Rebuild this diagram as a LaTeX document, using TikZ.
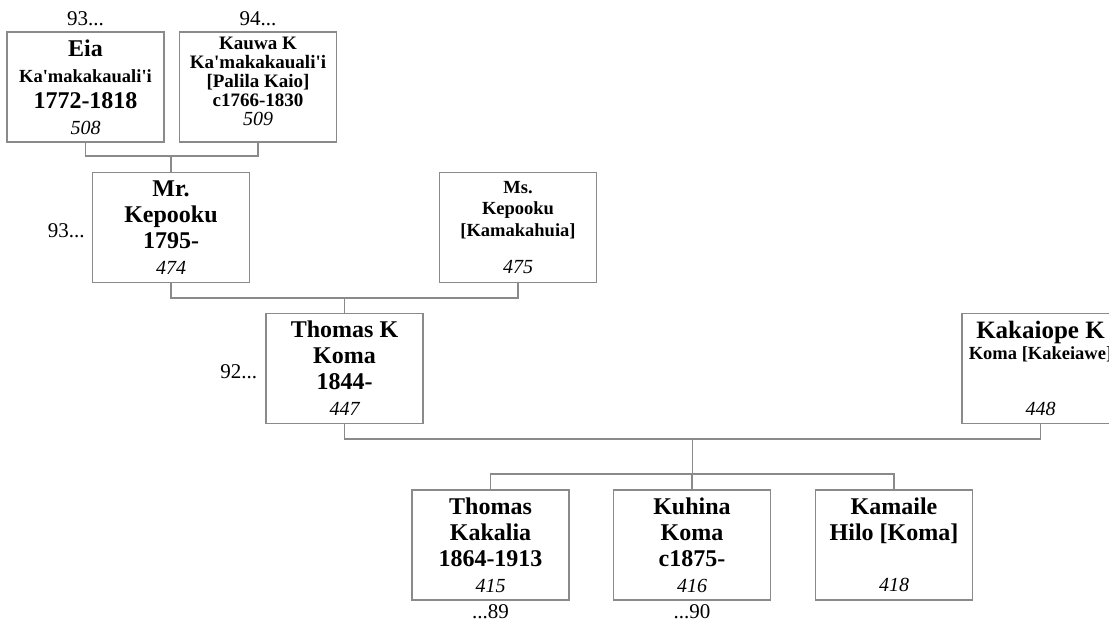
\documentclass[tikz,border=0pt]{standalone}
\usepackage{fontspec}
\setmainfont{Liberation Serif}
\usetikzlibrary{positioning}

\definecolor{boxgray}{HTML}{8A8A8A}
\definecolor{linegray}{HTML}{8A8A8A}
\newcommand{\ap}{\textquotesingle}
\newcommand{\namebig}{\fontsize{24}{26}\selectfont\bfseries}
\newcommand{\namesmall}{\fontsize{18.5}{21.5}\selectfont\bfseries}
\newcommand{\nametight}{\fontsize{19}{19}\selectfont\bfseries}
\newcommand{\idno}{\fontsize{20}{24}\selectfont\mdseries\itshape}

\begin{document}
\begin{tikzpicture}[
            x=1pt, y=-1pt,
            person/.style={draw=boxgray, line width=1.3pt, minimum width=157pt, minimum height=110pt, inner sep=0pt, align=center, font=\namebig},
            small/.style={font=\namesmall},
            tight/.style={font=\nametight},
            link/.style={draw=linegray, line width=1.3pt},
            ref/.style={font=\fontsize{21}{24}\selectfont, inner sep=0pt}
        ]
            \useasboundingbox (0,0) rectangle (1109,628);
            \clip (0,0) rectangle (1109,628);

            % Grandparents
            \node[person] (eia) at (85.5,87) {Eia\\\namesmall Ka\ap makakauali\ap i\\1772-1818\\\idno 508};
            \node[person, tight, text depth=11pt] (kauwa) at (258,87) {Kauwa K\\Ka\ap makakauali\ap i\\{}[Palila Kaio]\\c1766-1830\\\idno 509};
            \node[ref, above=5pt of eia] (eiaref) {93...};
            \node[ref, above=5pt of kauwa] (kauwaref) {94...};

            % Parents
            \node[person] (mr) at (171,227.5) {Mr.\\Kepooku\\1795-\\\idno 474};
            \node[person, small] (ms) at (518,227.5) {Ms.\\Kepooku\\{}[Kamakahuia]\\[16pt]\idno 475};
            \node[ref, left=7pt of mr, yshift=-3pt] (mrref) {93...};

            % Couple
            \node[person] (thomask) at (344.5,368.5) {Thomas K\\Koma\\1844-\\\idno 447};
            \node[person] (kakaiope) at (1040.5,368.5) {\fontsize{25}{26}\selectfont Kakaiope K\\[-5pt]\namesmall Koma [Kakeiawe]\\[30pt]\idno 448};
            \node[ref, left=8pt of thomask, yshift=-3pt] (thomaskref) {92...};

            % Children
            \node[person] (thomas) at (490.5,545) {Thomas\\Kakalia\\1864-1913\\\idno 415};
            \node[person] (kuhina) at (692,545) {Kuhina\\Koma\\c1875-\\\idno 416};
            \node[person] (kamaile) at (894,545) {Kamaile\\Hilo [Koma]\\[25pt]\idno 418};
            \node[ref, below=4pt of thomas] (thomasref) {...89};
            \node[ref, below=4pt of kuhina] (kuhinaref) {...90};

            % Lines
            \coordinate (u1) at (171.75,156);
            \coordinate (u2) at (344.25,298);
            \coordinate (u3) at (692.5,439);
            \coordinate (u4) at (692.5,474);
            \draw[link] (eia.south) |- (u1) -| (kauwa.south);
            \draw[link] (mr.north) -- (mr.north |- u1);
            \draw[link] (mr.south) |- (u2) -| (ms.south);
            \draw[link] (thomask.north) -- (thomask.north |- u2);
            \draw[link] (thomask.south) |- (u3) -| (kakaiope.south);
            \draw[link] (u3) -- (u4);
            \draw[link] (thomas.north) |- (u4) -| (kamaile.north);
            \draw[link] (kuhina.north) -- (kuhina.north |- u4);
        \end{tikzpicture}
\end{document}
